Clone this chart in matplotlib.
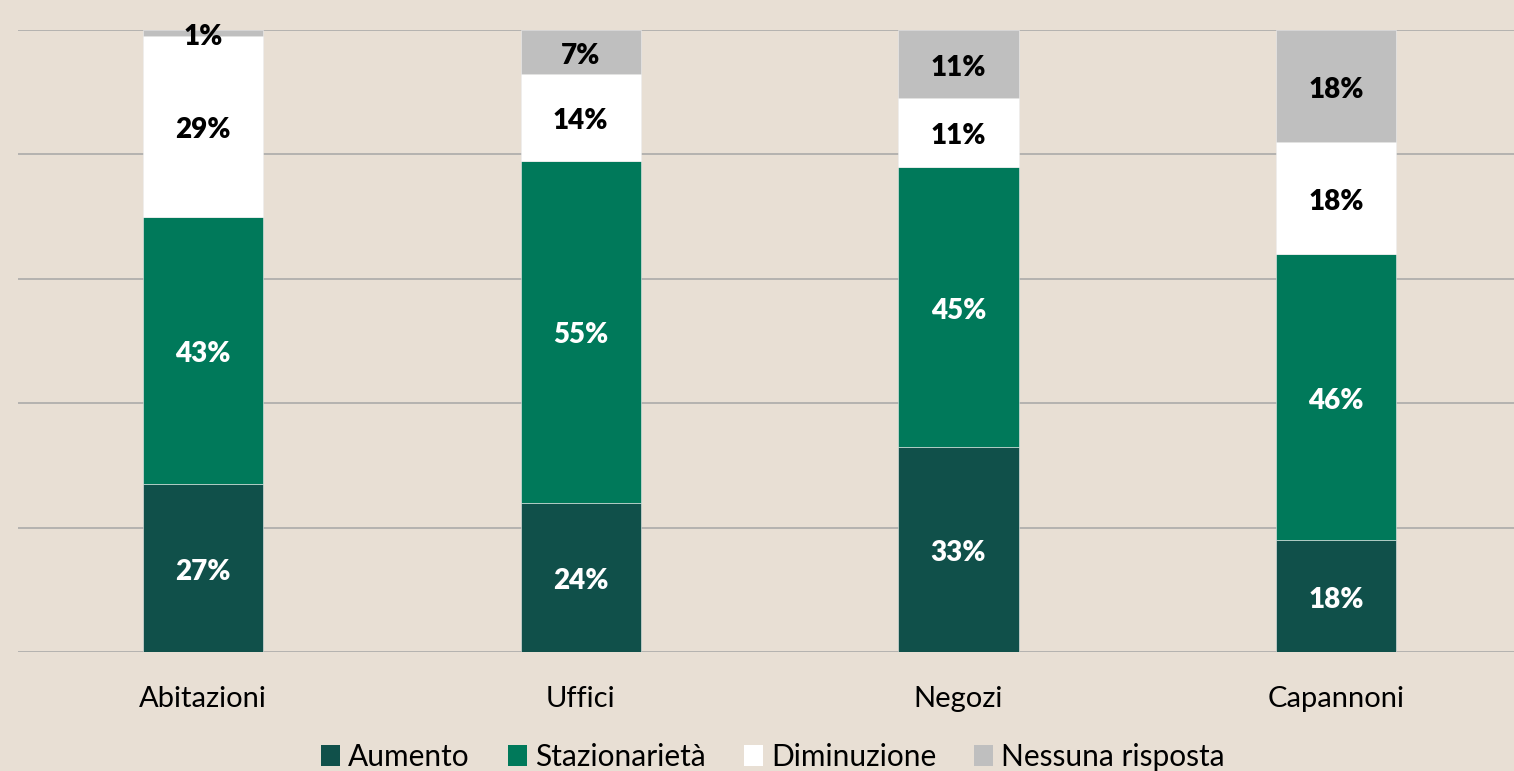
import matplotlib
matplotlib.use("Agg")
import matplotlib.pyplot as plt
import numpy as np
from matplotlib.patches import Patch

categories = ["Abitazioni", "Uffici", "Negozi", "Capannoni"]
series_names = ["Aumento", "Stazionarietà", "Diminuzione", "Nessuna risposta"]
aumento = [27, 24, 33, 18]
stazionarieta = [43, 55, 45, 46]
diminuzione = [29, 14, 11, 18]
nessuna = [1, 7, 11, 18]

colors = ["#10504A", "#00795A", "#FFFFFF", "#BFBFBF"]
label_colors = ["white", "white", "black", "black"]
bg = "#E8DFD4"

plt.rcParams['font.family'] = ['Lato', 'DejaVu Sans']

fig = plt.figure(figsize=(15.14, 7.71), dpi=100, facecolor=bg)
ax = fig.add_axes([18/1514, 1-652/771, 1-18/1514, (652-30)/771])
ax.set_facecolor(bg)

x = np.arange(len(categories))
width = 0.318
bottom = np.zeros(len(categories))
data = [aumento, stazionarieta, diminuzione, nessuna]
for vals, name, c, lc in zip(data, series_names, colors, label_colors):
    vals = np.array(vals, dtype=float)
    ax.bar(x, vals, width, bottom=bottom, color=c, label=name, zorder=3,
           edgecolor="#EDEDED", linewidth=0.4)
    for xi, b, v in zip(x, bottom, vals):
        ax.annotate(f"{int(v)}%", (xi, b + v / 2), xytext=(0, -8.5),
                    textcoords="offset points", ha="center", va="baseline",
                    fontsize=20, fontweight="heavy", color=lc, zorder=4,
                    annotation_clip=False)
    bottom += vals

ax.set_xlim(-0.49, -0.49 + 1496/377.7)
ax.set_ylim(0, 100)
ax.set_yticks(np.arange(0, 101, 20))
ax.yaxis.grid(True, color="#A6A6A6", linewidth=1.1, zorder=0)
ax.tick_params(axis="y", left=False, labelleft=False)
ax.tick_params(axis="x", bottom=False, labelsize=21, pad=21)
ax.set_xticks(x)
ax.set_xticklabels(categories)
for s in ax.spines.values():
    s.set_visible(False)

leg_handles = [Patch(facecolor=c, edgecolor="none") for c in colors]
fig.legend(leg_handles, series_names, loc="center",
           bbox_to_anchor=(773/1514, 1-757/771), ncol=4, frameon=False,
           fontsize=21.5, handlelength=0.64, handleheight=0.67,
           handletextpad=0.27, columnspacing=1.27, borderpad=0)

fig.savefig("out.png", dpi=100, facecolor=bg)
